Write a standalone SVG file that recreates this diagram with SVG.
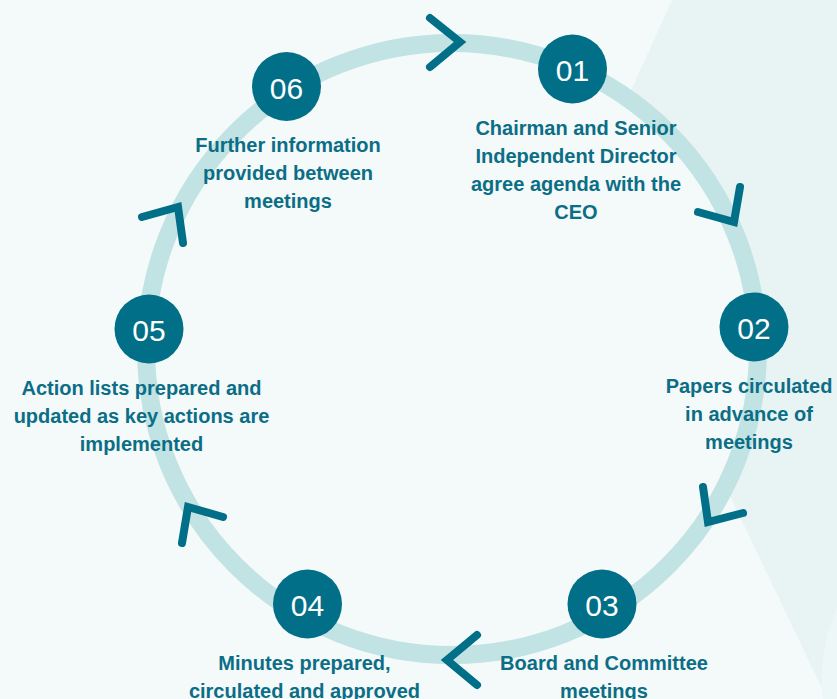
<svg xmlns="http://www.w3.org/2000/svg" width="837" height="699" viewBox="0 0 837 699">
<style>
.bg{fill:#f4f9f9}
.bg2{fill:#e8f4f4}
.bg3{fill:#eef7f7}
.ring{fill:#f4f9f9;stroke:#c1e3e3;stroke-width:18}
.chev{fill:none;stroke:#006f87;stroke-width:8;stroke-linecap:round;stroke-linejoin:miter}
.node circle{fill:#006f87}
.num{font-family:"Liberation Sans",Arial,sans-serif;font-size:30px;fill:#ffffff;text-anchor:middle}
.lbl{font-family:"Liberation Sans",Arial,sans-serif;font-weight:bold;font-size:20px;fill:#0b6e86;text-anchor:middle}
</style>
<g id="background">
<rect class="bg" x="0" y="0" width="837" height="699"/>
<polygon class="bg2" points="672,0 837,0 837,699 827,699 585,192"/>
<circle class="bg3" cx="1000" cy="680" r="178"/>
</g>
<g id="connectors">
<circle class="ring" cx="452" cy="349" r="306"/>
<polyline class="chev" points="430,18 460,42 430,67"/>
<polyline class="chev" points="740,187 734,222 698,212"/>
<polyline class="chev" points="703,487 708,522 743,513"/>
<polyline class="chev" points="477,635 447,660 477,685"/>
<polyline class="chev" points="223,517 188,507 182,543"/>
<polyline class="chev" points="142,217 178,207 183,243"/>
</g>
<g id="node01" class="node">
<circle cx="572.5" cy="69" r="34.5"/>
<text class="num" x="572.5" y="81">01</text>
<text class="lbl" x="576" y="135">Chairman and Senior</text>
<text class="lbl" x="576" y="163">Independent Director</text>
<text class="lbl" x="576" y="191">agree agenda with the</text>
<text class="lbl" x="576" y="219">CEO</text>
</g>
<g id="node02" class="node">
<circle cx="754" cy="327" r="34.5"/>
<text class="num" x="754" y="339">02</text>
<text class="lbl" x="749" y="393">Papers circulated</text>
<text class="lbl" x="749" y="421">in advance of</text>
<text class="lbl" x="749" y="449">meetings</text>
</g>
<g id="node03" class="node">
<circle cx="602" cy="604" r="34.5"/>
<text class="num" x="602" y="616">03</text>
<text class="lbl" x="604" y="670">Board and Committee</text>
<text class="lbl" x="604" y="698">meetings</text>
</g>
<g id="node04" class="node">
<circle cx="307.5" cy="604" r="34.5"/>
<text class="num" x="307.5" y="616">04</text>
<text class="lbl" x="304.5" y="670">Minutes prepared,</text>
<text class="lbl" x="304.5" y="698">circulated and approved</text>
</g>
<g id="node05" class="node">
<circle cx="149" cy="329" r="34.5"/>
<text class="num" x="149" y="341">05</text>
<text class="lbl" x="141.5" y="395">Action lists prepared and</text>
<text class="lbl" x="141.5" y="423">updated as key actions are</text>
<text class="lbl" x="141.5" y="451">implemented</text>
</g>
<g id="node06" class="node">
<circle cx="286.5" cy="86.5" r="34.5"/>
<text class="num" x="286.5" y="98.5">06</text>
<text class="lbl" x="288" y="152">Further information</text>
<text class="lbl" x="288" y="180">provided between</text>
<text class="lbl" x="288" y="208">meetings</text>
</g>
</svg>
